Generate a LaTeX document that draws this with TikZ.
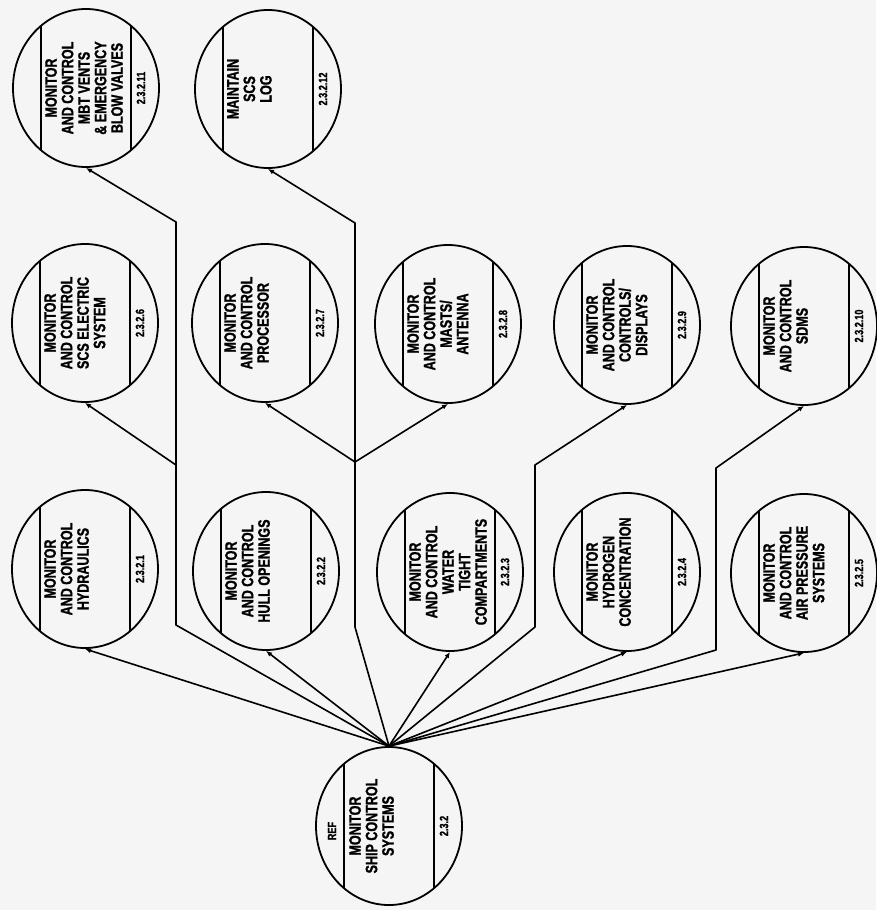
\documentclass[tikz,border=0pt]{standalone}
\usepackage{fontspec}
\usepackage{tikz}
\usetikzlibrary{positioning,arrows.meta,calc,shapes.geometric}
\newfontfamily\condfont[FakeStretch=0.76, FakeBold=1.2]{Liberation Sans}
\tikzset{
  bubble/.style={ellipse, draw, line width=1.8pt, minimum width=146pt, minimum height=158pt,
                 inner sep=0pt},
  divider/.style={line width=1.3pt},
  task/.style={font=\condfont\bfseries\fontsize{16.5}{16.5}\selectfont, align=center,
               inner sep=0pt, anchor=north, rotate=90},
  tasknum/.style={font=\condfont\bfseries\fontsize{12}{12}\selectfont, inner sep=0pt, rotate=90},
  link/.style={-{Latex[length=6pt,width=5pt]}, line width=1.6pt, line join=round}
}

\begin{document}
\begin{tikzpicture}[x=1pt, y=-1pt]
\fill[black!4] (0,0) rectangle (876,910);
\useasboundingbox (0,0) rectangle (876,910);
% sub-functions
\foreach \id/\cx/\cy/\txt/\code in {
  t1/85/569/{MONITOR\\AND CONTROL\\HYDRAULICS}/2.3.2.1,
  t2/266/571/{MONITOR\\AND CONTROL\\HULL OPENINGS}/2.3.2.2,
  t3/450/572/{MONITOR\\AND CONTROL\\WATER\\TIGHT\\COMPARTMENTS}/2.3.2.3,
  t4/627/572/{MONITOR\\HYDROGEN\\CONCENTRATION}/2.3.2.4,
  t5/804/573/{MONITOR\\AND CONTROL\\AIR PRESSURE\\SYSTEMS}/2.3.2.5,
  t6/85/323/{MONITOR\\AND CONTROL\\SCS ELECTRIC\\SYSTEM}/2.3.2.6,
  t7/265/323/{MONITOR\\AND CONTROL\\PROCESSOR}/2.3.2.7,
  t8/448/324/{MONITOR\\AND CONTROL\\MASTS/\\ANTENNA}/2.3.2.8,
  t9/627/325/{MONITOR\\AND CONTROL\\CONTROLS/\\DISPLAYS}/2.3.2.9,
  t10/804/326/{MONITOR\\AND CONTROL\\SDMS}/2.3.2.10,
  t11/86/88/{MONITOR\\AND CONTROL\\MBT VENTS\\\& EMERGENCY\\BLOW VALVES}/2.3.2.11,
  t12/268/89/{MAINTAIN\\SCS\\LOG}/2.3.2.12}{
  \node[bubble] (\id) at (\cx,\cy) {};
  \draw[divider] ($(\id.center)+(-45,-62)$) -- ++(0,124);
  \draw[divider] ($(\id.center)+(45,-62)$) -- ++(0,124);
  \node[task] (\id txt) at ($(\id.center)+(-41,0)$) {\txt};
  \node[tasknum] (\id num) at ($(\id.center)+(55,0)$) {\code};
}
% parent function
\node[bubble] (root) at (389,826) {};
\draw[divider] ($(root.center)+(-45,-62)$) -- ++(0,124);
\draw[divider] ($(root.center)+(45,-62)$) -- ++(0,124);
\node[tasknum] (ref) at ($(root.center)+(-57,5)$) {REF};
\node[task] (roottxt) at ($(root.center)+(-40,0)$) {MONITOR\\SHIP CONTROL\\SYSTEMS};
\node[tasknum] (rootnum) at ($(root.center)+(55,0)$) {2.3.2};
% bend points
\coordinate (b11) at (176,625);
\coordinate (k11) at (176,222);
\coordinate (j6) at (176,465);
\coordinate (b12) at (355,627);
\coordinate (k12) at (355,223);
\coordinate (j78) at (355,462);
\coordinate (b9) at (535,627);
\coordinate (k9) at (535,465);
\coordinate (b10) at (716,650);
\coordinate (k10) at (716,468);
% connectors
\foreach \i in {1,...,5}
  \draw[link] (root.north) -- (t\i.south);
\draw[link] (root.north) -- (b11) -- (k11) -- (t11.south);
\draw[link] (j6) -- (t6.south);
\draw[link] (root.north) -- (b12) -- (k12) -- (t12.south);
\draw[link] (j78) -- (t7.south);
\draw[link] (j78) -- (t8.south);
\draw[link] (root.north) -- (b9) -- (k9) -- (t9.south);
\draw[link] (root.north) -- (b10) -- (k10) -- (t10.south);
\end{tikzpicture}
\end{document}
